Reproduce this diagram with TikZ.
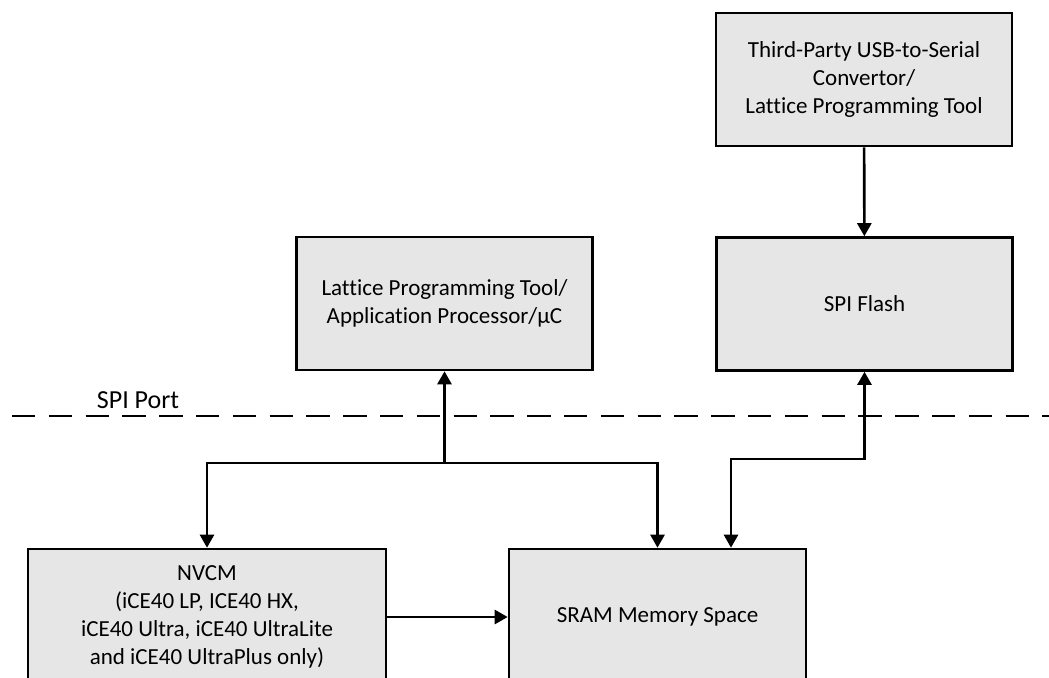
\documentclass[tikz,border=0pt]{standalone}
\usepackage{fontspec}
\setmainfont{Carlito}[Ligatures=NoCommon]
\usetikzlibrary{arrows.meta,positioning}

\definecolor{boxgray}{RGB}{230,230,230}
\newcommand{\blockfont}{\fontsize{11.5}{14}\selectfont}
\newcommand{\portfont}{\fontsize{13}{15}\selectfont}

\begin{document}
\begin{tikzpicture}[
x=0.5pt,
y=-0.5pt,
block/.style={
  draw,
  line width=1.3pt,
  fill=boxgray,
  align=center,
  font=\blockfont,
  minimum width=148pt,
  minimum height=66.5pt
  },
wide/.style={
  minimum width=179pt,
  minimum height=68pt
  },
link/.style={
  line width=1.3pt
  },
>={Triangle[width=7pt,length=6.5pt]}
]

\clip (0,0) rectangle (1049,677);

\node[block] (third) at (864,79.5)
  {Third-Party USB-to-Serial\\Convertor/\\Lattice Programming Tool};
\node[block] (flash) at (864.5,304) {SPI Flash};
\node[block] (lattice) at (444.5,303.5)
  {Lattice Programming Tool/\\Application Processor/µC};
\node[block,wide] (nvcm) at (207,617)
  {NVCM\\(iCE40 LP, ICE40 HX,\\iCE40 Ultra, iCE40 UltraLite\\and iCE40 UltraPlus only)};
\node[block,minimum width=148.5pt,minimum height=68pt] (sram) at (657.5,617)
  {SRAM Memory Space};

% SPI port boundary
\coordinate (portL) at (12,416);
\coordinate (portR) at (1049,416);
\draw[link,dash pattern=on 11.7pt off 6.7pt] (portL) -- (portR);
\node[font=\portfont] (port) at (138,400) {SPI Port};

\coordinate (split) at (444.5,463);
\coordinate (bend) at (731,459);

\draw[link,->] (third) -- (flash);
\draw[link,->] (split) -- (lattice);
\draw[link,->] (split) -| (nvcm);
\draw[link,->] (split) -| (sram);
\draw[link,<->] (flash.south) |- (bend) -- (sram.north -| bend);
\draw[link,->] (nvcm) -- (sram);
\end{tikzpicture}
\end{document}
